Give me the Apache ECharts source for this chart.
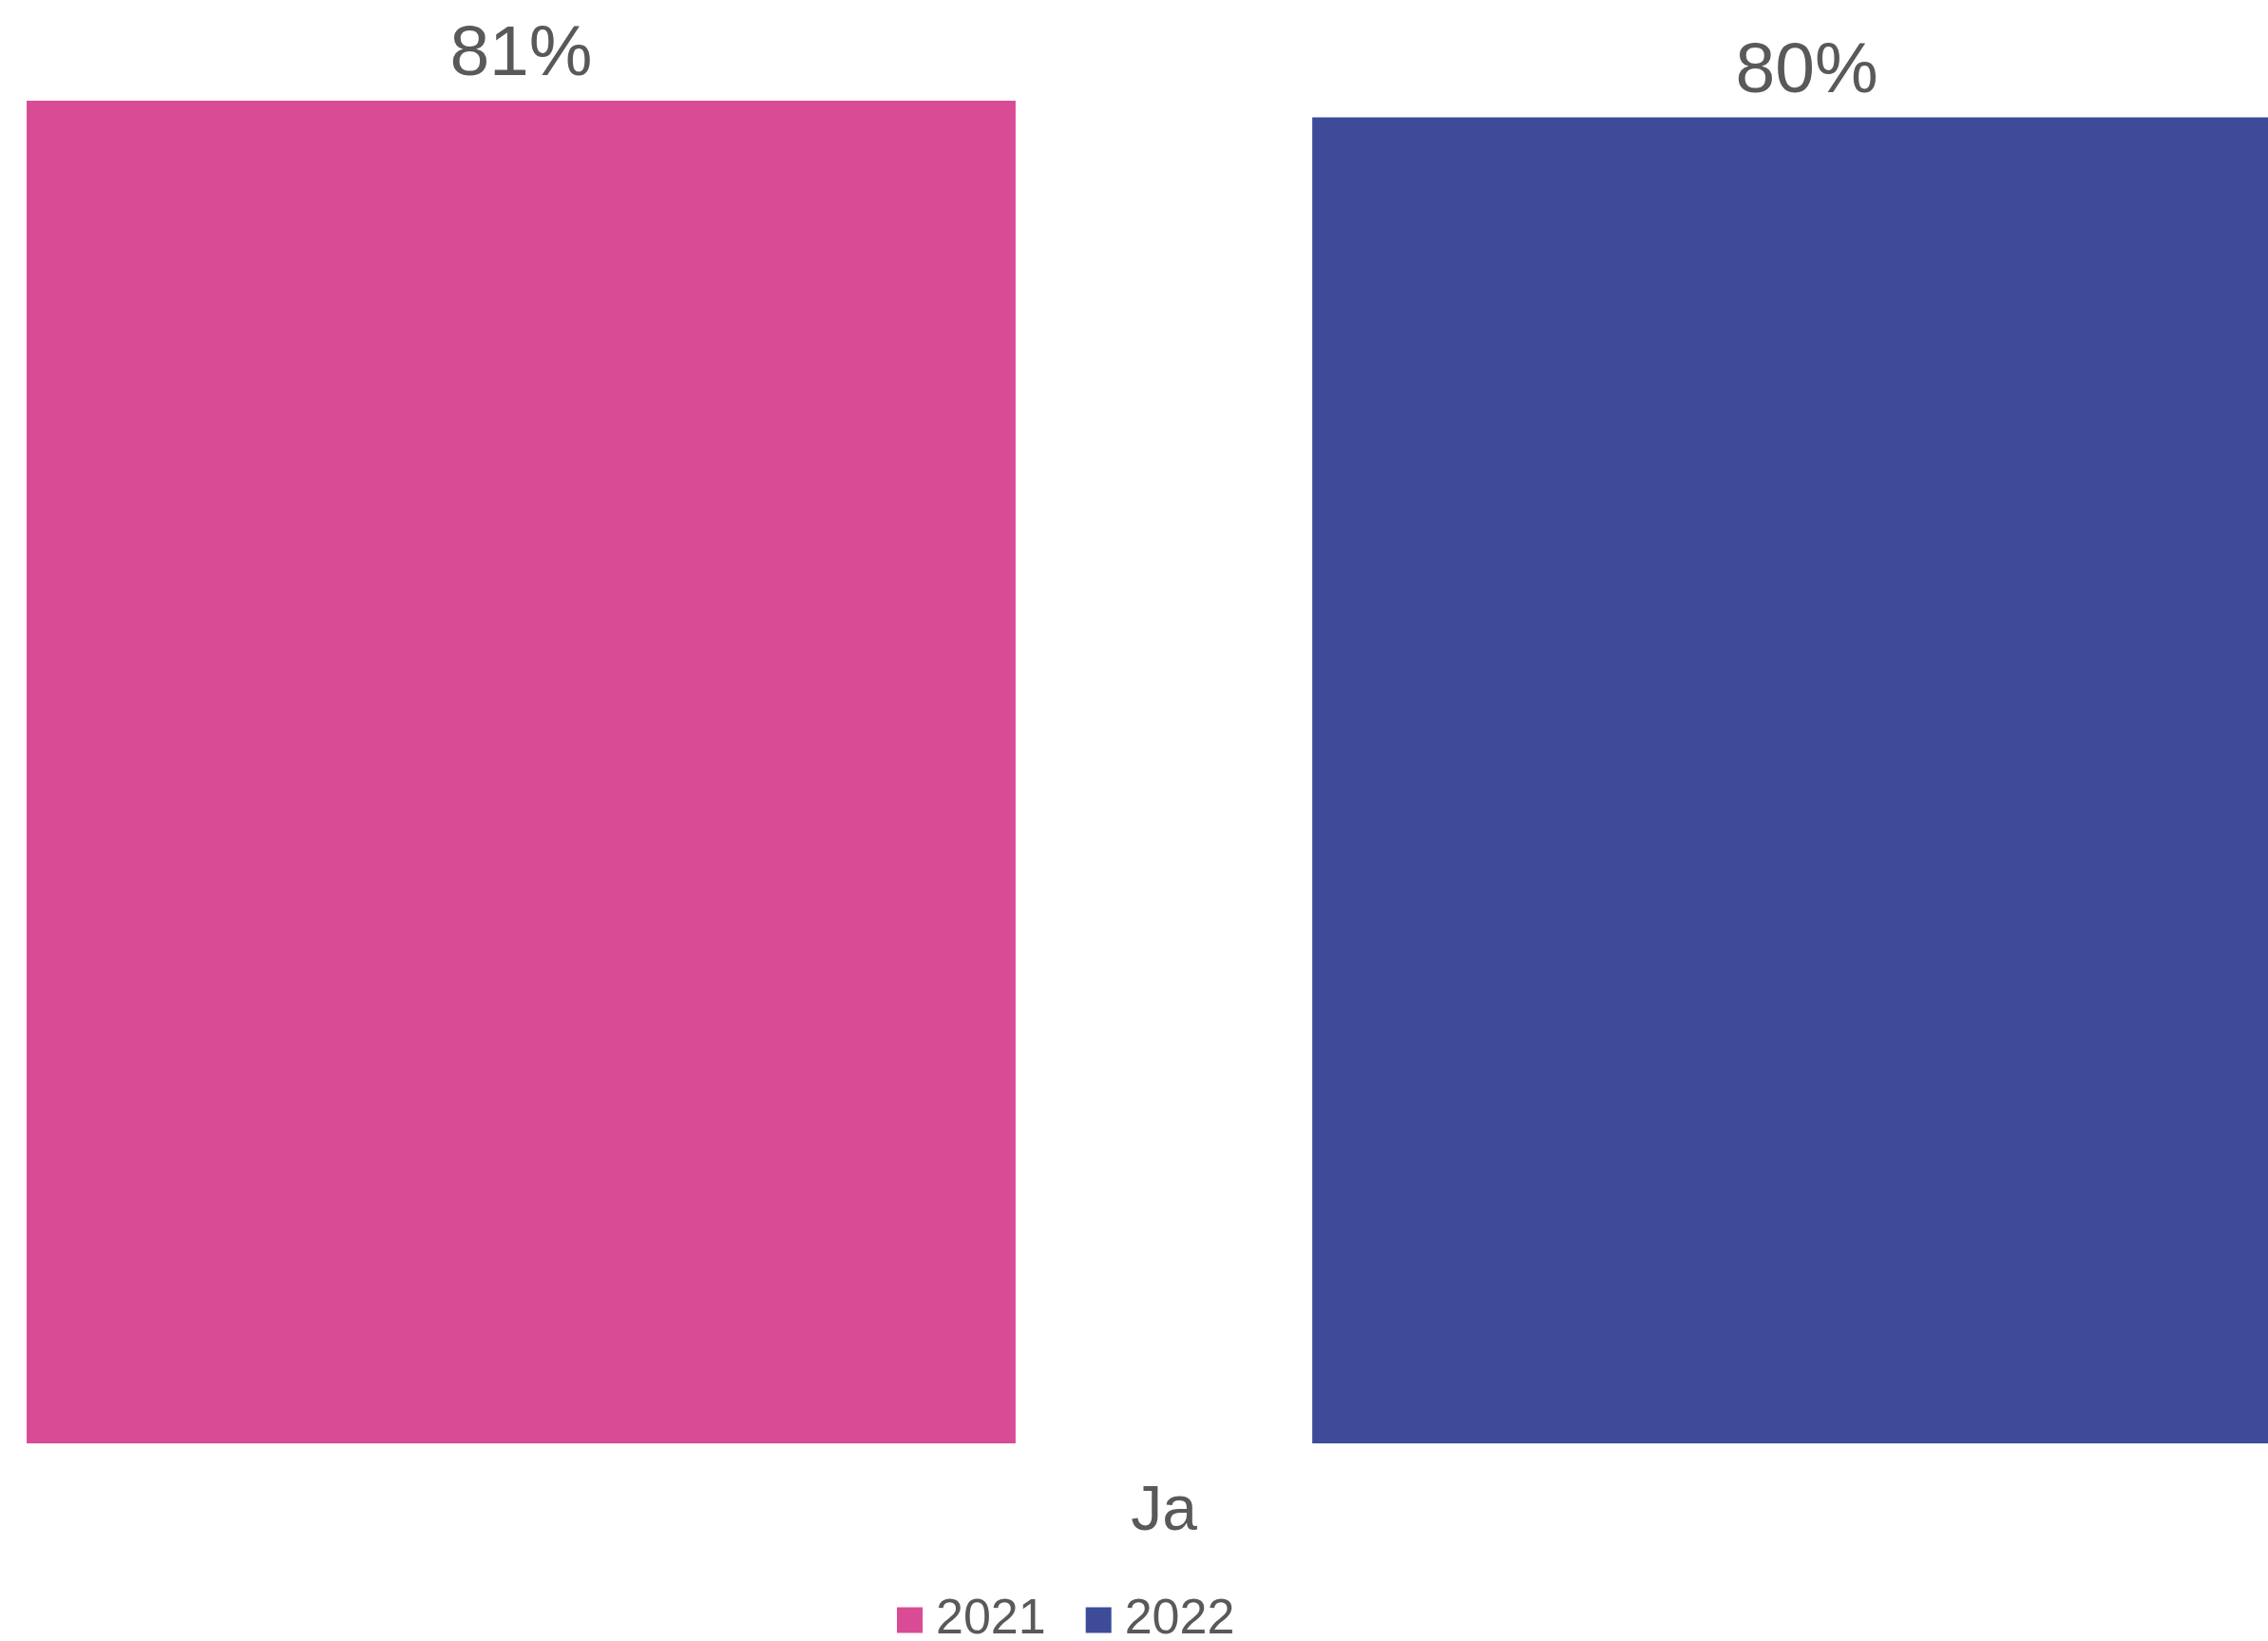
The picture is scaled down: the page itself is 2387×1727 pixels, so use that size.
<!DOCTYPE html>
<html>
<head>
<meta charset="utf-8">
<script src="https://cdn.jsdelivr.net/npm/echarts@6/dist/echarts.min.js"></script>
<style>html,body{margin:0;padding:0;background:#fff}#chart{width:2387px;height:1727px}</style>
</head>
<body>
<div id="chart"></div>
<script>
const categories = ['Ja'];
const seriesNames = ['2021', '2022'];
const values2021 = [81];
const values2022 = [80];
const colors = ['#D94B94', '#3D4B99'];

const chart = echarts.init(document.getElementById('chart'), null, {renderer: 'canvas'});
const font = 'Liberation Sans, Arial, Helvetica, sans-serif';
const labelCfg = {
  show: true, position: 'top', distance: 10,
  formatter: p => p.value + '%',
  color: '#595959', fontSize: 75, fontFamily: font
};
chart.setOption({
  animation: false,
  backgroundColor: '#ffffff',
  grid: {left: 0, width: 2450, top: 106, bottom: 208, containLabel: false, outerBoundsMode: 'none'},
  legend: {
    data: seriesNames, left: 944, top: 1678, padding: 0,
    icon: 'rect', itemWidth: 27, itemHeight: 27, itemGap: 42,
    textStyle: {color: '#595959', fontSize: 52, fontFamily: font, lineHeight: 54, padding: [0, 0, 0, 9]}
  },
  xAxis: {
    type: 'category', data: categories,
    axisLine: {show: false}, axisTick: {show: false},
    axisLabel: {color: '#595959', fontSize: 66, fontFamily: font, margin: 40, lineHeight: 66}
  },
  yAxis: {type: 'value', min: 0, max: 81, show: false, splitLine: {show: false}},
  series: [
    {name: seriesNames[0], type: 'bar', data: values2021, itemStyle: {color: colors[0]},
     barGap: '30%', barCategoryGap: '2.29%', label: labelCfg},
    {name: seriesNames[1], type: 'bar', data: values2022, itemStyle: {color: colors[1]},
     barGap: '30%', barCategoryGap: '2.29%', label: labelCfg}
  ]
});
</script>
</body>
</html>
